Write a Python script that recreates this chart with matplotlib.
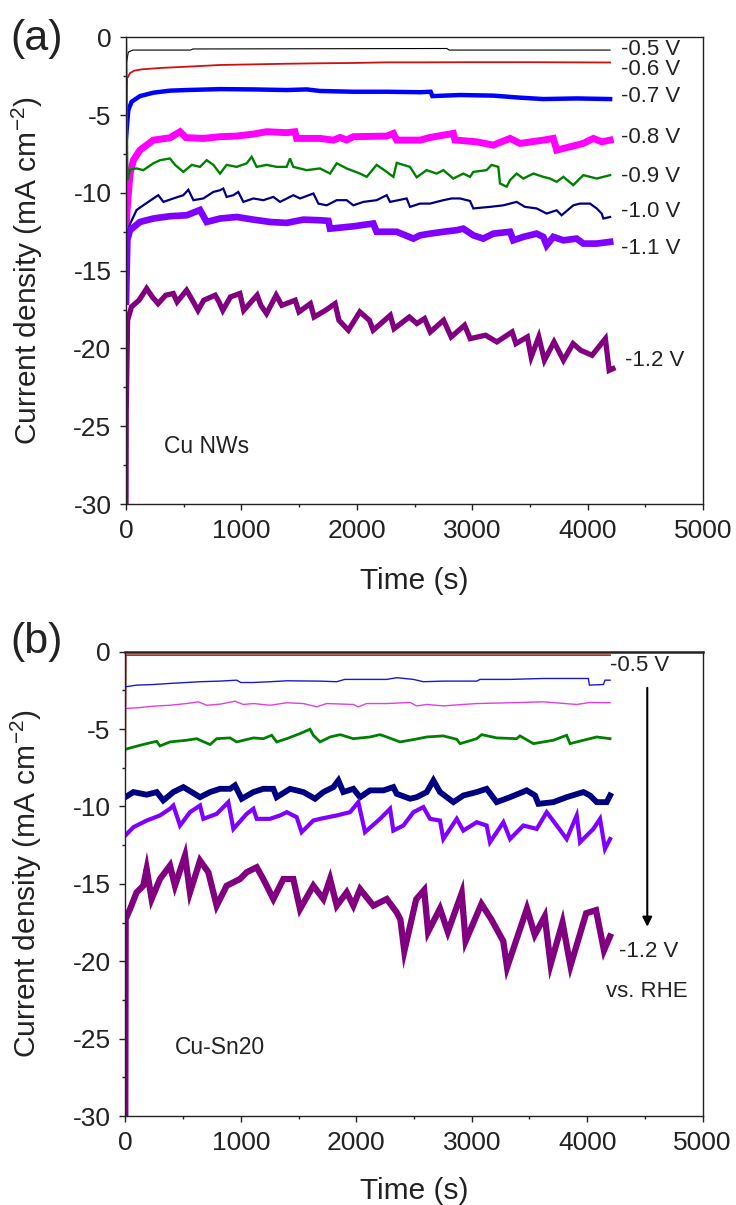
import matplotlib
matplotlib.use("Agg")
import matplotlib.pyplot as plt
import numpy as np
from matplotlib.ticker import MultipleLocator

plt.rcParams["font.family"] = ["Liberation Sans", "DejaVu Sans"]
plt.rcParams["mathtext.fontset"] = "custom"
plt.rcParams["mathtext.rm"] = "Liberation Sans"
plt.rcParams["axes.unicode_minus"] = False

# ---- panel (a): Cu NWs, (time s, current density mA cm-2) ----
a_m05 = [(0, -1.8), (20, -0.95), (60, -0.82), (560, -0.82), (580, -0.75), (2780, -0.72), (2800, -0.82), (4195, -0.82)]
a_m06 = [(0, -4.5), (10, -2.64), (35, -2.3), (69, -2.15), (137, -2.06), (300, -1.97), (526, -1.89), (815, -1.78),
         (1104, -1.74), (1392, -1.70), (1681, -1.67), (1970, -1.65), (2259, -1.61), (2548, -1.61), (3000, -1.60),
         (3500, -1.60), (4195, -1.62)]
a_m07 = [(0, -6.5), (8, -5.75), (20, -4.68), (49, -4.14), (121, -3.78), (237, -3.56), (381, -3.43), (526, -3.39),
         (815, -3.33), (1104, -3.35), (1392, -3.39), (1566, -3.35), (1681, -3.45), (1970, -3.5), (2259, -3.5),
         (2548, -3.53), (2640, -3.5), (2655, -3.78), (2894, -3.71), (3183, -3.75), (3414, -3.88), (3616, -3.97),
         (3905, -3.93), (4195, -3.97)]
a_m08 = [(0, -12.5), (10, -11.0), (35, -8.76), (64, -7.9), (121, -7.25), (179, -6.93), (237, -6.61), (381, -6.46),
         (468, -6.07), (520, -6.45), (670, -6.5), (815, -6.39), (959, -6.35), (1104, -6.22), (1219, -6.07),
         (1392, -6.13), (1464, -6.07), (1479, -6.5), (1681, -6.5), (1797, -6.61), (1855, -6.44), (1912, -6.6),
         (1970, -6.39), (2259, -6.35), (2317, -6.18), (2346, -6.61), (2548, -6.61), (2634, -6.44), (2836, -6.18),
         (2850, -6.6), (3039, -6.72), (3183, -6.93), (3328, -6.5), (3414, -6.82), (3616, -6.61), (3703, -6.5),
         (3732, -7.25), (3847, -7.04), (3963, -6.82), (4050, -6.5), (4122, -6.72), (4195, -6.61)]
a_m09 = [(0, 0.0), (12, -9.2), (35, -8.5), (92, -8.43), (150, -8.54), (237, -8.1), (295, -7.9), (381, -7.79),
         (425, -8.2), (497, -8.65), (570, -8.2), (641, -8.33), (699, -7.9), (757, -8.2), (815, -8.76), (872, -8.2),
         (959, -8.33), (1046, -8.1), (1089, -7.68), (1132, -8.33), (1219, -8.2), (1306, -8.33), (1392, -8.33),
         (1421, -7.79), (1450, -8.33), (1566, -8.54), (1681, -8.43), (1768, -8.76), (1826, -8.1), (1912, -8.43),
         (2028, -8.76), (2086, -8.97), (2172, -8.2), (2259, -8.65), (2317, -8.97), (2346, -8.07), (2461, -8.33),
         (2519, -9.0), (2605, -8.54), (2692, -8.76), (2750, -8.54), (2836, -9.08), (2923, -8.76), (2981, -8.97),
         (3010, -8.65), (3125, -8.54), (3168, -8.2), (3226, -8.33), (3241, -9.4), (3299, -9.6), (3328, -9.18),
         (3385, -8.76), (3443, -9.08), (3530, -8.76), (3616, -8.97), (3674, -9.08), (3732, -9.29), (3790, -8.97),
         (3876, -9.5), (3963, -8.86), (4079, -9.08), (4195, -8.86)]
a_m10 = [(20, -12.5), (35, -12.0), (92, -11.1), (150, -10.8), (237, -10.36), (280, -10.15), (324, -10.58),
         (410, -10.36), (497, -10.15), (540, -9.8), (584, -10.47), (670, -10.36), (757, -9.94), (815, -9.83),
         (843, -9.72), (872, -10.26), (930, -10.15), (973, -9.94), (1017, -10.58), (1104, -10.36), (1190, -10.47),
         (1277, -10.26), (1335, -10.58), (1450, -10.15), (1508, -10.36), (1624, -10.04), (1667, -10.69),
         (1739, -10.8), (1826, -10.47), (1912, -10.47), (1970, -10.8), (2057, -10.58), (2172, -10.47),
         (2259, -10.15), (2288, -10.58), (2432, -10.36), (2461, -10.9), (2548, -10.69), (2634, -10.69),
         (2750, -10.47), (2822, -10.36), (2894, -10.36), (2981, -10.52), (3010, -11.0), (3154, -10.9),
         (3270, -10.8), (3385, -10.58), (3457, -10.9), (3558, -11.0), (3645, -11.33), (3732, -11.12),
         (3775, -11.44), (3876, -10.8), (3934, -10.69), (4021, -10.69), (4079, -11.0), (4122, -11.33),
         (4137, -11.65), (4195, -11.55)]
a_m11 = [(0, -17.0), (12, -13.0), (35, -12.4), (121, -11.87), (237, -11.65), (381, -11.5), (526, -11.44),
         (641, -11.1), (699, -11.87), (815, -11.65), (959, -11.55), (1104, -11.72), (1248, -11.87), (1392, -11.93),
         (1537, -11.72), (1681, -11.76), (1754, -11.8), (1768, -12.3), (1970, -12.15), (2143, -11.97),
         (2172, -12.5), (2346, -12.5), (2490, -12.94), (2548, -12.73), (2634, -12.62), (2750, -12.5),
         (2865, -12.4), (2923, -12.3), (3010, -12.73), (3096, -12.94), (3183, -12.62), (3328, -12.5),
         (3356, -13.05), (3443, -12.83), (3558, -12.62), (3616, -12.83), (3645, -13.37), (3703, -12.83),
         (3790, -13.05), (3905, -12.94), (3963, -13.26), (4079, -13.26), (4195, -13.15)]
a_m12 = [(0, -30.0), (2, -24.0), (14, -18.19), (47, -17.33), (113, -16.90), (179, -16.15), (228, -16.69),
         (278, -17.12), (344, -16.58), (410, -16.47), (443, -17.01), (525, -16.26), (575, -16.90), (624, -17.55),
         (674, -16.90), (773, -16.58), (806, -17.01), (839, -17.55), (905, -16.69), (987, -16.47), (1020, -17.55),
         (1136, -16.58), (1169, -17.23), (1218, -17.76), (1301, -16.58), (1350, -17.23), (1466, -16.90),
         (1499, -17.65), (1598, -17.12), (1630, -17.98), (1729, -17.55), (1812, -17.12), (1845, -18.19),
         (1927, -18.83), (2026, -17.65), (2109, -18.19), (2142, -18.83), (2290, -17.87), (2323, -18.73),
         (2455, -17.98), (2521, -18.40), (2587, -18.08), (2637, -18.94), (2752, -18.19), (2818, -19.26),
         (2934, -18.51), (2983, -19.37), (3115, -19.15), (3214, -19.58), (3346, -18.94), (3379, -19.69),
         (3478, -19.26), (3511, -20.55), (3577, -19.26), (3626, -20.76), (3709, -19.58), (3791, -20.76),
         (3874, -19.69), (3940, -20.12), (4039, -20.44), (4154, -19.37), (4187, -21.41), (4220, -21.30)]

a_labels = ["-0.5 V", "-0.6 V", "-0.7 V", "-0.8 V", "-0.9 V", "-1.0 V", "-1.1 V", "-1.2 V"]
a_label_y = [-0.77, -2.1, -3.78, -6.44, -8.97, -11.22, -13.58, -20.77]

# ---- panel (b): Cu-Sn20 ----
b_m05 = [(0, -7.4), (5, -0.22), (4198, -0.22)]
b_m06 = [(0, -2.27), (98, -2.16), (243, -2.12), (387, -2.05), (531, -1.99), (647, -1.94), (820, -1.90),
         (964, -1.84), (1000, -1.99), (1109, -1.99), (1253, -1.94), (1398, -1.88), (1686, -1.90), (1831, -1.94),
         (1900, -1.79), (2264, -1.79), (2350, -1.68), (2495, -1.79), (2581, -1.94), (2754, -1.90), (3043, -1.90),
         (3072, -1.79), (3332, -1.79), (3620, -1.73), (3909, -1.73), (4010, -1.73), (4019, -2.16), (4140, -2.12),
         (4154, -1.84), (4198, -1.84)]
b_m07 = [(0, -3.67), (98, -3.63), (243, -3.52), (387, -3.46), (531, -3.35), (632, -3.24), (705, -3.46),
         (820, -3.39), (950, -3.20), (1022, -3.41), (1109, -3.35), (1253, -3.46), (1398, -3.30), (1542, -3.35),
         (1657, -3.56), (1744, -3.35), (1975, -3.41), (2018, -3.56), (2090, -3.35), (2264, -3.35), (2466, -3.28),
         (2524, -3.50), (2610, -3.41), (2754, -3.50), (3043, -3.35), (3332, -3.30), (3620, -3.24), (3909, -3.41),
         (4025, -3.28), (4198, -3.30)]
b_m08 = [(0, -6.31), (70, -6.16), (185, -5.94), (272, -5.79), (300, -6.09), (387, -5.83), (531, -5.72),
         (618, -5.62), (734, -6.0), (791, -5.62), (907, -5.57), (964, -5.83), (1109, -5.57), (1195, -5.62),
         (1268, -5.40), (1311, -5.83), (1398, -5.62), (1513, -5.29), (1600, -5.01), (1628, -5.40), (1686, -5.83),
         (1773, -5.51), (1860, -5.36), (1975, -5.62), (2119, -5.51), (2206, -5.36), (2264, -5.51), (2379, -5.83),
         (2495, -5.68), (2610, -5.51), (2754, -5.44), (2870, -5.66), (2899, -5.94), (3043, -5.62), (3086, -5.36),
         (3216, -5.57), (3389, -5.62), (3418, -5.44), (3534, -5.94), (3707, -5.72), (3822, -5.40), (3851, -5.94),
         (3967, -5.72), (4082, -5.51), (4198, -5.62)]
b_m09 = [(0, -9.40), (70, -9.07), (185, -9.24), (272, -9.07), (329, -9.61), (416, -9.07), (503, -8.75),
         (575, -9.07), (647, -9.40), (734, -9.07), (820, -8.86), (907, -8.86), (950, -8.64), (1008, -9.50),
         (1109, -9.07), (1195, -8.86), (1282, -8.86), (1311, -9.40), (1427, -8.86), (1542, -9.07), (1643, -9.50),
         (1715, -9.07), (1802, -8.75), (1845, -8.32), (1888, -9.07), (1975, -8.86), (2033, -9.40), (2119, -8.96),
         (2235, -8.96), (2321, -8.75), (2350, -9.18), (2466, -9.50), (2523, -9.40), (2610, -9.07), (2668, -8.32),
         (2725, -9.07), (2841, -9.72), (2927, -9.29), (3043, -9.07), (3129, -8.86), (3216, -9.72), (3332, -9.40),
         (3476, -8.96), (3548, -9.29), (3577, -9.83), (3707, -9.72), (3822, -9.40), (3967, -9.07), (4024, -9.29),
         (4082, -9.72), (4169, -9.72), (4198, -9.29)]
b_m10 = [(0, -11.88), (70, -11.34), (185, -10.91), (300, -10.58), (387, -10.15), (416, -9.94), (474, -11.23),
         (560, -10.37), (647, -9.94), (676, -10.80), (791, -10.48), (892, -9.72), (936, -11.45), (1051, -10.48),
         (1109, -10.15), (1138, -10.80), (1253, -10.80), (1340, -10.58), (1398, -10.37), (1484, -10.69),
         (1527, -11.66), (1628, -10.91), (1686, -10.80), (1831, -10.58), (1946, -10.37), (2018, -9.72),
         (2076, -11.66), (2206, -10.80), (2293, -10.15), (2321, -11.56), (2408, -11.23), (2495, -10.37),
         (2581, -10.04), (2639, -10.80), (2725, -10.91), (2754, -12.10), (2870, -10.80), (2927, -11.56),
         (3043, -11.02), (3129, -11.23), (3158, -12.31), (3274, -11.02), (3332, -12.10), (3447, -11.23),
         (3563, -11.45), (3649, -10.37), (3736, -11.23), (3822, -12.10), (3909, -10.58), (3938, -12.31),
         (4053, -11.45), (4111, -10.80), (4154, -12.74), (4198, -12.10)]
b_m12 = [(0, -30.0), (3, -17.28), (41, -16.63), (98, -15.55), (156, -15.12), (185, -14.04), (228, -15.98),
         (300, -14.69), (387, -13.82), (430, -15.12), (517, -13.17), (560, -15.55), (647, -13.50), (719, -14.25),
         (791, -16.41), (878, -15.12), (993, -14.69), (1051, -14.25), (1138, -13.93), (1195, -14.69),
         (1282, -15.98), (1369, -14.69), (1455, -14.69), (1513, -16.63), (1628, -15.12), (1715, -15.98),
         (1773, -14.69), (1831, -16.41), (1917, -15.55), (1975, -16.41), (2033, -15.34), (2148, -16.41),
         (2264, -15.98), (2350, -16.84), (2382, -17.3), (2416, -19.35), (2519, -16.0), (2588, -15.4), (2622, -18.1),
         (2725, -16.6), (2793, -18.1), (2913, -15.6), (2947, -18.7), (3084, -16.3), (3170, -17.3), (3273, -18.7),
         (3306, -20.4), (3478, -16.6), (3546, -18.3), (3632, -17.1), (3683, -20.2), (3786, -17.5), (3855, -20.3),
         (3991, -16.9), (4076, -16.7), (4145, -19.3), (4197, -18.4)]

# colours / widths per trace (noisy traces drawn wider to mimic their noise band)
a_series = [a_m05, a_m06, a_m07, a_m08, a_m09, a_m10, a_m11, a_m12]
a_colors = ["black", "#d01010", "#0000ff", "#ff00ff", "#008000", "#000080", "#8000ff", "#800080"]
a_widths = [0.8, 1.3, 3.2, 5.0, 1.7, 1.6, 4.8, 3.8]

b_series = [b_m05, b_m06, b_m07, b_m08, b_m09, b_m10, b_m12]
b_colors = ["#a52a2a", "#1a1acc", "#e040e0", "#008000", "#000080", "#8000ff", "#800080"]
b_widths = [1.2, 1.0, 1.0, 2.0, 4.2, 3.0, 4.5]

W, H = 736, 1205
fig = plt.figure(figsize=(W / 100, H / 100), dpi=100)


def style_axes(ax):
    ax.set_xlim(0, 5000)
    ax.set_ylim(-30, 0)
    ax.xaxis.set_major_locator(MultipleLocator(1000))
    ax.xaxis.set_minor_locator(MultipleLocator(500))
    ax.yaxis.set_major_locator(MultipleLocator(5))
    ax.yaxis.set_minor_locator(MultipleLocator(2.5))
    ax.tick_params(which="both", direction="out", top=False, right=False, width=1.0, colors="#222222",
                   labelcolor="#222222")
    ax.tick_params(which="major", length=4.5, labelsize=19, pad=6)
    ax.tick_params(which="minor", length=2.5)
    for sp in ax.spines.values():
        sp.set_linewidth(1.0)
        sp.set_color("#222222")
    ax.set_ylabel("Current density (mA cm$^{-2}$)", fontsize=21.5, color="#222222")
    ax.set_xlabel("Time (s)", fontsize=21.5, color="#222222")


# panel (a)
ax_a = fig.add_axes([126 / W, 1 - 504 / H, 577 / W, (504 - 37.3) / H])
for data, c, lw in zip(a_series, a_colors, a_widths):
    arr = np.array(data)
    ax_a.plot(arr[:, 0], arr[:, 1], color=c, lw=lw, solid_joinstyle="miter")
style_axes(ax_a)
for lab, y in zip(a_labels, a_label_y):
    x0 = 4320 if lab == "-1.2 V" else 4290
    ax_a.text(x0, y, lab, fontsize=16, va="center", ha="left", color="#222222")
ax_a.text(330, -26.3, "Cu NWs", fontsize=16.5, va="center", ha="left", color="#222222")
ax_a.yaxis.set_label_coords(-0.14, 0.5)
ax_a.xaxis.set_label_coords(0.5, -0.135)

# panel (b)
ax_b = fig.add_axes([125.3 / W, 1 - 1116 / H, 577.4 / W, (1116 - 651.7) / H])
for data, c, lw in zip(b_series, b_colors, b_widths):
    arr = np.array(data)
    ax_b.plot(arr[:, 0], arr[:, 1], color=c, lw=lw, solid_joinstyle="miter")
style_axes(ax_b)
ax_b.spines["top"].set_linewidth(1.8)
ax_b.text(4198, -0.86, "-0.5 V", fontsize=16, va="center", ha="left", color="#222222")
ax_b.text(4275, -19.35, "-1.2 V", fontsize=16, va="center", ha="left", color="#222222")
ax_b.text(4162, -21.94, "vs. RHE", fontsize=16, va="center", ha="left", color="#222222")
ax_b.text(430, -25.6, "Cu-Sn20", fontsize=16.5, va="center", ha="left", color="#222222")
ax_b.annotate("", xy=(4520, -17.95), xytext=(4520, -2.15),
              arrowprops=dict(arrowstyle="-|>", color="black", lw=1.5, mutation_scale=14))
ax_b.yaxis.set_label_coords(-0.14, 0.5)
ax_b.xaxis.set_label_coords(0.5, -0.131)

fig.text(10 / W, 1 - 39 / H, "(a)", fontsize=31, va="center", ha="left", color="#222222")
fig.text(10 / W, 1 - 642 / H, "(b)", fontsize=31, va="center", ha="left", color="#222222")

fig.savefig("out.png", dpi=100)
